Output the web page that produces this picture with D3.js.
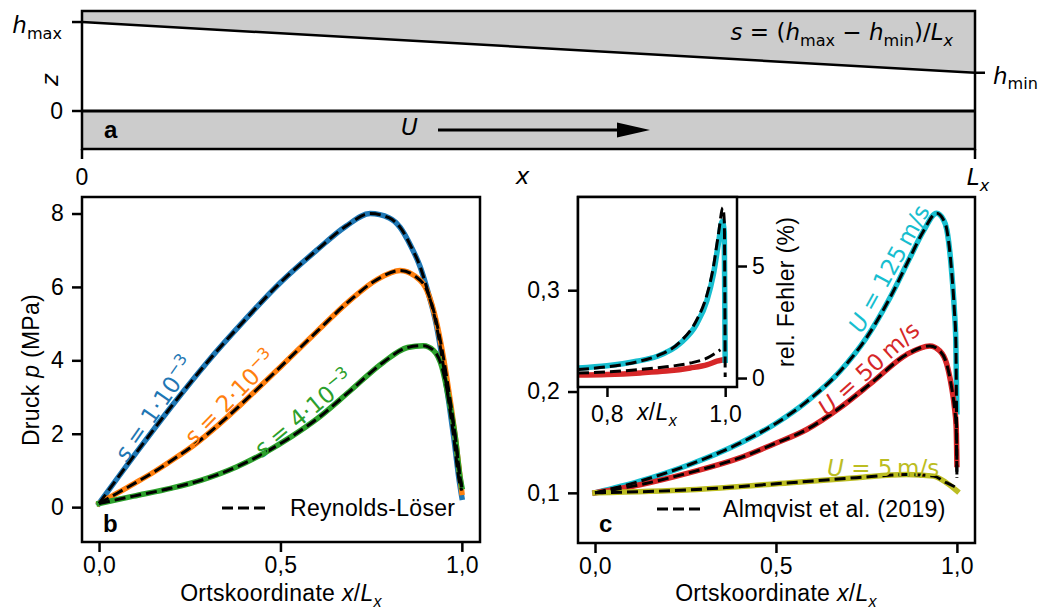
<!DOCTYPE html>
<html><head><meta charset="utf-8">
<script src="https://cdn.jsdelivr.net/npm/d3@7"></script>
<style>body{margin:0;background:#fff}svg{display:block}</style>
</head><body>
<svg id="chart" width="1046" height="615"></svg>
<script>
// ================= DATA =================
// Panel a (schematic gap geometry)
const hMax = 1.0;
const hMin = 0.43;
const aXTicks = [0, 1];
// Panel b: pressure for three slopes s
const bSlopeNames = ["1", "2", "4"];
const bBlueX   = [0, 0.05, 0.1, 0.2, 0.3, 0.4, 0.5, 0.6, 0.68, 0.747, 0.8, 0.83, 0.86, 0.885, 0.904, 0.93, 0.953, 0.977, 0.993, 1.0];
const bBlueP   = [0.1, 0.78, 1.45, 2.75, 3.97, 5.08, 6.12, 7.0, 7.65, 8.0, 7.88, 7.62, 7.1, 6.55, 5.95, 4.95, 3.6, 1.95, 0.7, 0.27];
const bOrangeX = [0, 0.05, 0.1, 0.15, 0.2, 0.26, 0.33, 0.4, 0.5, 0.6, 0.69, 0.766, 0.83, 0.87, 0.904, 0.931, 0.958, 0.982, 0.995, 1.0];
const bOrangeP = [0.1, 0.38, 0.66, 0.95, 1.27, 1.68, 2.25, 2.88, 3.82, 4.78, 5.62, 6.2, 6.45, 6.3, 5.9, 5.0, 3.55, 1.9, 0.82, 0.4];
const bGreenX  = [0, 0.095, 0.2, 0.28, 0.38, 0.46, 0.53, 0.6, 0.69, 0.784, 0.85, 0.894, 0.922, 0.945, 0.963, 0.982, 0.995, 1.0];
const bGreenP  = [0.1, 0.3, 0.52, 0.73, 1.1, 1.5, 1.92, 2.4, 3.15, 3.95, 4.35, 4.4, 4.27, 3.82, 3.0, 1.9, 0.82, 0.55];
const bRefEnd  = [0.45, 0.5, 0.55];   // end values of the Reynolds-Löser curves
const bYTicks  = [0, 2, 4, 6, 8];
const xTicks   = [0, 0.5, 1.0];
// Panel c: pressure (MPa) for three sliding speeds
const cSpeeds  = ["125", "50", "5"];
const cCyanX   = [0, 0.124, 0.262, 0.40, 0.493, 0.585, 0.677, 0.75, 0.815, 0.87, 0.907, 0.944, 0.962, 0.972, 0.986, 0.993, 0.997, 1.0];
const cCyanV   = [0.1, 0.1115, 0.128, 0.149, 0.167, 0.19, 0.22, 0.253, 0.2925, 0.332, 0.358, 0.376, 0.37, 0.36, 0.316, 0.28, 0.25, 0.18];
const cRedX    = [0, 0.124, 0.262, 0.40, 0.493, 0.585, 0.677, 0.769, 0.861, 0.925, 0.953, 0.972, 0.985, 0.993, 0.998, 1.0];
const cRedV    = [0.1, 0.108, 0.12, 0.1345, 0.148, 0.1625, 0.184, 0.21, 0.2365, 0.245, 0.24, 0.227, 0.205, 0.185, 0.165, 0.128];
const cOliveX  = [0, 0.262, 0.539, 0.723, 0.861, 0.935, 0.971, 1.0];
const cOliveV  = [0.1, 0.103, 0.11, 0.115, 0.118, 0.1165, 0.11, 0.102];
const cRefEnd  = [0.118, 0.115, 0.105];  // end values of the Almqvist et al. curves
const cYTicks  = [0.1, 0.2, 0.3];
// Inset: relative error (%)
const iCyanX   = [0.751, 0.8, 0.85, 0.884, 0.924, 0.952, 0.969, 0.98, 0.989, 0.995, 0.9985, 1.0];
const iCyanV   = [0.45, 0.55, 0.75, 0.96, 1.55, 2.43, 3.45, 4.62, 6.08, 7.0, 6.5, 0.67];
const iRefCyanX= [0.751, 0.8, 0.85, 0.884, 0.924, 0.952, 0.969, 0.98, 0.989, 0.996, 0.9985, 1.0];
const iRefCyanV= [0.38, 0.5, 0.72, 0.98, 1.62, 2.6, 3.7, 4.95, 6.5, 7.6, 7.0, 0.05];
const iRedX    = [0.751, 0.8, 0.856, 0.9, 0.941, 0.97, 0.986, 1.003];
const iRedV    = [0.13, 0.16, 0.23, 0.31, 0.45, 0.6, 0.75, 0.85];
const iRefRedX = [0.751, 0.8, 0.856, 0.9, 0.941, 0.97, 0.992];
const iRefRedV = [0.22, 0.27, 0.38, 0.5, 0.67, 0.9, 1.26];
const iXTicks  = [0.8, 1.0];
const iYTicks  = [0, 5];

// ================= STYLE / HELPERS =================
const svg = d3.select("#chart");
const SANS = "'Liberation Sans', Arial, sans-serif";
const MATH = "'DejaVu Sans', sans-serif";
const FS = 23, LS = 0.3, MFS = 23, FW = 2.5;
const comma = d => d3.format(".1f")(d).replace(".", ",");
const zip = (xs, ys) => xs.map((x, i) => [x, ys[i]]);
const withEnd = (xs, ys, end) => zip(xs, ys.map((v, i) => i === ys.length - 1 ? end : v));

function mtext(parent, parts, attrs, fs = FS, ls = LS) {
  const t = parent.append("text").attr("font-size", fs).attr("letter-spacing", ls);
  for (const k in attrs) t.attr(k, attrs[k]);
  let cur = 0;
  parts.forEach(p => {
    const [s, st = ""] = Array.isArray(p) ? p : [p, ""];
    const ts = t.append("tspan").text(s);
    let shift = 0;
    if (st.includes("sub")) shift = 0.25 * fs;
    if (st.includes("sup")) shift = -0.42 * fs;
    if (shift !== cur) ts.attr("dy", shift - cur);
    cur = shift;
    if (st.includes("sub") || st.includes("sup")) ts.attr("font-size", 0.7 * fs);
    if (st.startsWith("i")) ts.attr("font-style", "italic");
  });
  return t;
}
function interp(xs, ys, x) {
  for (let i = 0; i < xs.length - 1; i++) {
    if (x >= xs[i] && x <= xs[i + 1]) {
      const t = (x - xs[i]) / (xs[i + 1] - xs[i]);
      return ys[i] + t * (ys[i + 1] - ys[i]);
    }
  }
  return ys[ys.length - 1];
}
function styleAxis(g) {
  g.select(".domain").remove();
  g.selectAll(".tick line").attr("stroke", "#000").attr("stroke-width", FW);
  g.selectAll(".tick text").attr("font-family", SANS).attr("font-size", FS)
    .attr("letter-spacing", LS).attr("fill", "#000");
}
function clip(id, x, y, w, h) {
  svg.append("clipPath").attr("id", id).append("rect")
    .attr("x", x).attr("y", y).attr("width", w).attr("height", h);
}

// ================= PANEL A =================
const ax = d3.scaleLinear().domain([0, 1]).range([82, 975]);
const az = d3.scaleLinear().domain([-0.427, 1.124]).range([149, 11]);
const A = svg.append("g");
A.append("path")
  .attr("d", d3.line()([[ax(0), az(1.124)], [ax(1), az(1.124)], [ax(1), az(hMin)], [ax(0), az(hMax)]]) + "Z")
  .attr("fill", "#cccccc");
A.append("rect").attr("x", ax(0)).attr("y", az(0)).attr("width", ax(1) - ax(0))
  .attr("height", az(-0.427) - az(0)).attr("fill", "#cccccc");
A.append("line").attr("x1", ax(0)).attr("x2", ax(1)).attr("y1", az(hMax)).attr("y2", az(hMin))
  .attr("stroke", "#000").attr("stroke-width", 2.5);
A.append("line").attr("x1", ax(0)).attr("x2", ax(1)).attr("y1", az(0)).attr("y2", az(0))
  .attr("stroke", "#000").attr("stroke-width", 3);
A.append("rect").attr("x", 82).attr("y", 11).attr("width", 893).attr("height", 138)
  .attr("fill", "none").attr("stroke", "#000").attr("stroke-width", FW);
[hMax, 0].forEach(v => A.append("line").attr("x1", 72).attr("x2", 82)
  .attr("y1", az(v)).attr("y2", az(v)).attr("stroke", "#000").attr("stroke-width", FW));
A.append("line").attr("x1", 975).attr("x2", 985).attr("y1", az(hMin)).attr("y2", az(hMin))
  .attr("stroke", "#000").attr("stroke-width", FW);
aXTicks.forEach(v => A.append("line").attr("x1", ax(v)).attr("x2", ax(v)).attr("y1", 149).attr("y2", 159)
  .attr("stroke", "#000").attr("stroke-width", FW));
mtext(A, [["h", "i"], ["max", "sub"]], {x: 62, y: az(hMax) + 11, "text-anchor": "end", "font-family": MATH}, MFS, 0);
A.append("text").text("0").attr("x", 63).attr("y", az(0) + 8).attr("text-anchor", "end")
  .attr("font-family", SANS).attr("font-size", FS);
mtext(A, [["h", "i"], ["min", "sub"]], {x: 993, y: az(hMin) + 11, "font-family": MATH}, MFS, 0);
A.append("text").text("0").attr("x", ax(0)).attr("y", 185).attr("text-anchor", "middle")
  .attr("font-family", SANS).attr("font-size", FS);
mtext(A, [["x", "i"]], {x: ax(0.5) - 6, y: 184, "text-anchor": "middle", "font-family": MATH}, MFS, 0);
mtext(A, [["L", "i"], ["x", "isub"]], {x: ax(1) + 3, y: 185, "text-anchor": "middle", "font-family": MATH}, MFS, 0);
mtext(A, [["z", "i"]], {transform: `translate(58,${az(0.35)}) rotate(-90)`, "text-anchor": "middle", "font-family": MATH}, MFS, 0);
mtext(A, [["s", "i"], " = (", ["h", "i"], ["max", "sub"], " − ", ["h", "i"], ["min", "sub"], ")/", ["L", "i"], ["x", "isub"]],
  {x: 953, y: 40, "text-anchor": "end", "font-family": MATH}, MFS, 0);
A.append("text").text("a").attr("x", 104).attr("y", 138).attr("font-family", SANS)
  .attr("font-weight", "bold").attr("font-size", 24);
mtext(A, [["U", "i"]], {x: 401, y: 135, "font-family": MATH}, MFS, 0);
A.append("line").attr("x1", 438).attr("x2", 620).attr("y1", 130).attr("y2", 130)
  .attr("stroke", "#000").attr("stroke-width", 3);
A.append("path").attr("d", "M617,122.5 L650,130 L617,137.5 Z").attr("fill", "#000");

// ================= PANEL B =================
const bx = d3.scaleLinear().domain([-0.047, 1.05]).range([82, 480]);
const by = d3.scaleLinear().domain([-0.95, 8.45]).range([542, 197]);
clip("clipB", 82, 197, 398, 345);
const B = svg.append("g");
const bLine = d3.line().x(d => bx(d[0])).y(d => by(d[1])).curve(d3.curveMonotoneX);
const bSeries = [
  {x: bBlueX, y: bBlueP, c: "#1f77b4"},
  {x: bOrangeX, y: bOrangeP, c: "#ff7f0e"},
  {x: bGreenX, y: bGreenP, c: "#2ca02c"}
];
const BP = B.append("g").attr("clip-path", "url(#clipB)");
bSeries.forEach(s => BP.append("path").attr("d", bLine(zip(s.x, s.y))).attr("fill", "none")
  .attr("stroke", s.c).attr("stroke-width", 5.5).attr("stroke-linecap", "square"));
bSeries.forEach((s, i) => BP.append("path").attr("d", bLine(withEnd(s.x, s.y, bRefEnd[i]))).attr("fill", "none")
  .attr("stroke", "#000").attr("stroke-width", 3).attr("stroke-dasharray", "11,5"));
const bLab = [{xv: 0.18, ang: -55, d: 12}, {xv: 0.385, ang: -45.6, d: 12}, {xv: 0.585, ang: -39.5, d: 12}];
bSeries.forEach((s, i) => {
  const L = bLab[i];
  const px = bx(L.xv), py = by(interp(s.x, s.y, L.xv));
  const g = B.append("g").attr("transform", `translate(${px},${py}) rotate(${L.ang})`);
  mtext(g, [["s", "i"], " = " + bSlopeNames[i] + "·10", ["−3", "sup"]],
    {x: 0, y: -L.d, dy: "0.35em", "text-anchor": "middle", "font-family": MATH, fill: s.c}, MFS, 0);
});
B.append("g").attr("transform", "translate(0,542)")
  .call(d3.axisBottom(bx).tickValues(xTicks).tickFormat(comma).tickSize(10).tickPadding(5)).call(styleAxis);
B.append("g").attr("transform", "translate(82,0)")
  .call(d3.axisLeft(by).tickValues(bYTicks).tickFormat(d3.format("d")).tickSize(10).tickPadding(8)).call(styleAxis);
B.append("rect").attr("x", 82).attr("y", 197).attr("width", 398).attr("height", 345)
  .attr("fill", "none").attr("stroke", "#000").attr("stroke-width", FW);
mtext(B, ["Ortskoordinate ", ["x", "i"], "/", ["L", "i"], ["x", "isub"]],
  {x: 281, y: 601, "text-anchor": "middle", "font-family": SANS});
mtext(B, ["Druck ", ["p", "i"], " (MPa)"],
  {transform: "translate(39,370) rotate(-90)", "text-anchor": "middle", "font-family": SANS});
B.append("text").text("b").attr("x", 103).attr("y", 532).attr("font-family", SANS)
  .attr("font-weight", "bold").attr("font-size", 24);
B.append("line").attr("x1", 222).attr("x2", 270).attr("y1", 508).attr("y2", 508)
  .attr("stroke", "#000").attr("stroke-width", 3).attr("stroke-dasharray", "11,5");
B.append("text").text("Reynolds-Löser").attr("x", 290).attr("y", 516).attr("font-family", SANS)
  .attr("font-size", FS).attr("letter-spacing", LS);

// ================= PANEL C =================
const cx = d3.scaleLinear().domain([-0.047, 1.05]).range([578, 975]);
const cy = d3.scaleLinear().domain([0.0505, 0.392]).range([543, 197]);
clip("clipC", 578, 197, 397, 346);
const C = svg.append("g");
const cLine = d3.line().x(d => cx(d[0])).y(d => cy(d[1])).curve(d3.curveMonotoneX);
const cSeries = [
  {x: cCyanX, y: cCyanV, c: "#17becf"},
  {x: cRedX, y: cRedV, c: "#d62728"},
  {x: cOliveX, y: cOliveV, c: "#bcbd22"}
];
const CP = C.append("g").attr("clip-path", "url(#clipC)");
cSeries.forEach(s => CP.append("path").attr("d", cLine(zip(s.x, s.y))).attr("fill", "none")
  .attr("stroke", s.c).attr("stroke-width", 5.5).attr("stroke-linecap", "square"));
cSeries.forEach((s, i) => CP.append("path").attr("d", cLine(withEnd(s.x, s.y, cRefEnd[i]))).attr("fill", "none")
  .attr("stroke", "#000").attr("stroke-width", 3).attr("stroke-dasharray", "11,5"));
const cLab = [{xv: 0.846, ang: -61, d: 14}, {xv: 0.78, ang: -42, d: 13}, {xv: 0.796, ang: 0, d: 8}];
cSeries.forEach((s, i) => {
  const L = cLab[i];
  const px = cx(L.xv), py = cy(interp(s.x, s.y, L.xv));
  const g = C.append("g").attr("transform", `translate(${px},${py}) rotate(${L.ang})`);
  mtext(g, [["U", "i"], " = " + cSpeeds[i] + "\u2009m/s"],
    {x: 0, y: -L.d, dy: "0.35em", "text-anchor": "middle", "font-family": MATH, fill: s.c}, MFS, 0);
});
C.append("g").attr("transform", "translate(0,543)")
  .call(d3.axisBottom(cx).tickValues(xTicks).tickFormat(comma).tickSize(10).tickPadding(5)).call(styleAxis);
C.append("g").attr("transform", "translate(578,0)")
  .call(d3.axisLeft(cy).tickValues(cYTicks).tickFormat(comma).tickSize(10).tickPadding(8)).call(styleAxis);
C.append("rect").attr("x", 578).attr("y", 197).attr("width", 397).attr("height", 346)
  .attr("fill", "none").attr("stroke", "#000").attr("stroke-width", FW);
mtext(C, ["Ortskoordinate ", ["x", "i"], "/", ["L", "i"], ["x", "isub"]],
  {x: 776, y: 601, "text-anchor": "middle", "font-family": SANS});
C.append("text").text("c").attr("x", 599).attr("y", 532).attr("font-family", SANS)
  .attr("font-weight", "bold").attr("font-size", 24);
C.append("line").attr("x1", 657).attr("x2", 705).attr("y1", 509).attr("y2", 509)
  .attr("stroke", "#000").attr("stroke-width", 3).attr("stroke-dasharray", "11,5");
C.append("text").text("Almqvist et al. (2019)").attr("x", 723).attr("y", 517).attr("font-family", SANS)
  .attr("font-size", FS).attr("letter-spacing", LS);

// ================= INSET =================
const ix = d3.scaleLinear().domain([0.751, 1.02]).range([578, 737]);
const iy = d3.scaleLinear().domain([-0.4, 8.08]).range([387, 197]);
const I = svg.append("g");
I.append("rect").attr("x", 578).attr("y", 197).attr("width", 159).attr("height", 190).attr("fill", "#fff");
clip("clipI", 578, 197, 159, 190);
const iLine = d3.line().x(d => ix(d[0])).y(d => iy(d[1])).curve(d3.curveMonotoneX);
const IP = I.append("g").attr("clip-path", "url(#clipI)");
IP.append("path").attr("d", iLine(zip(iRedX, iRedV))).attr("fill", "none").attr("stroke", "#d62728").attr("stroke-width", 5.5);
IP.append("path").attr("d", iLine(zip(iCyanX, iCyanV))).attr("fill", "none").attr("stroke", "#17becf").attr("stroke-width", 5.5);
IP.append("path").attr("d", iLine(zip(iRefRedX, iRefRedV))).attr("fill", "none").attr("stroke", "#000")
  .attr("stroke-width", 3).attr("stroke-dasharray", "11,5");
IP.append("path").attr("d", iLine(zip(iRefCyanX, iRefCyanV))).attr("fill", "none").attr("stroke", "#000")
  .attr("stroke-width", 3).attr("stroke-dasharray", "11,5");
I.append("g").attr("transform", "translate(0,387)")
  .call(d3.axisBottom(ix).tickValues(iXTicks).tickFormat(comma).tickSize(10).tickPadding(9)).call(styleAxis);
I.append("g").attr("transform", "translate(737,0)")
  .call(d3.axisRight(iy).tickValues(iYTicks).tickFormat(d3.format("d")).tickSize(10).tickPadding(5)).call(styleAxis);
I.append("rect").attr("x", 578).attr("y", 197).attr("width", 159).attr("height", 190)
  .attr("fill", "none").attr("stroke", "#000").attr("stroke-width", FW);
mtext(I, [["x", "i"], "/", ["L", "i"], ["x", "isub"]], {x: 657, y: 420, "text-anchor": "middle", "font-family": SANS});
I.append("text").text("rel. Fehler (%)").attr("transform", "translate(794,292) rotate(-90)")
  .attr("text-anchor", "middle").attr("font-family", SANS).attr("font-size", FS).attr("letter-spacing", LS);
</script>
</body></html>
